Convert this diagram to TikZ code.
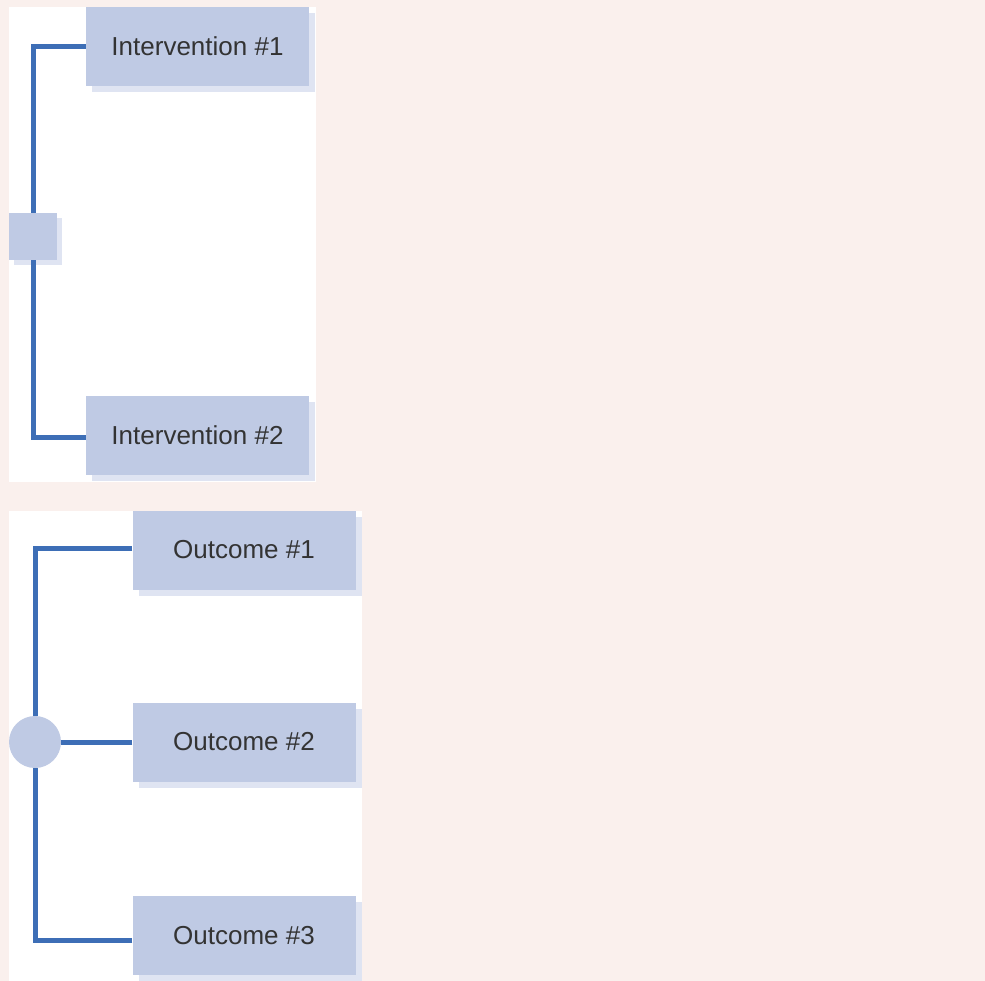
\documentclass[tikz,border=0pt]{standalone}
\usepackage{fontspec}
\setmainfont{Liberation Sans}
\usetikzlibrary{shadows}
\definecolor{pagebg}{HTML}{FAF0ED}
\definecolor{boxfill}{HTML}{BFCAE4}
\definecolor{boxshade}{HTML}{DFE4F2}
\definecolor{linkblue}{HTML}{3D6EB6}
\definecolor{labeltext}{HTML}{333333}
\tikzset{
  x=1pt, y=-1pt,
  panel/.style={fill=white, draw=none},
  choicebox/.style={rectangle, fill=boxfill, draw=none, inner sep=0pt,
    minimum width=223pt, minimum height=79pt,
    font=\fontsize{26}{30}\selectfont, text=labeltext,
    general shadow={shadow xshift=6pt, shadow yshift=-6pt, fill=boxshade}},
  decisionnode/.style={rectangle, fill=boxfill, draw=none, inner sep=0pt,
    minimum width=48pt, minimum height=47pt,
    general shadow={shadow xshift=5pt, shadow yshift=-5pt, fill=boxshade}},
  chancenode/.style={circle, fill=boxfill, draw=none, inner sep=0pt,
    minimum size=52pt},
  link/.style={draw=linkblue, line width=5pt}
}
\begin{document}
\begin{tikzpicture}
  % page background and the two white panels
  \fill[pagebg] (0,0) rectangle (985,981);
  \useasboundingbox (0,0) rectangle (985,981);
  \fill[panel] (9,7) rectangle (316,482);
  \fill[panel] (9,511) rectangle (362,981);

  % decision branch
  \node[decisionnode] (dec) at (33,236.5) {};
  \node[choicebox] (int1) at (197.5,46.5) {Intervention \#1};
  \node[choicebox] (int2) at (197.5,435.5) {Intervention \#2};

  % chance branch
  \node[chancenode] (chance) at (35,742) {};
  \node[choicebox] (out1) at (244,550) {Outcome \#1};
  \node[choicebox] (out2) at (244,742) {Outcome \#2};
  \node[choicebox] (out3) at (244,935.5) {Outcome \#3};

  % connectors
  \draw[link] (int1.west) -| (dec.north);
  \draw[link] ([yshift=-2pt]int2.west) -| (dec.south);
  \draw[link] ([yshift=2pt]out1.west) -| (chance.north);
  \draw[link] (out2.west) -- (chance.east);
  \draw[link] ([yshift=-5pt]out3.west) -| (chance.south);
\end{tikzpicture}
\end{document}
